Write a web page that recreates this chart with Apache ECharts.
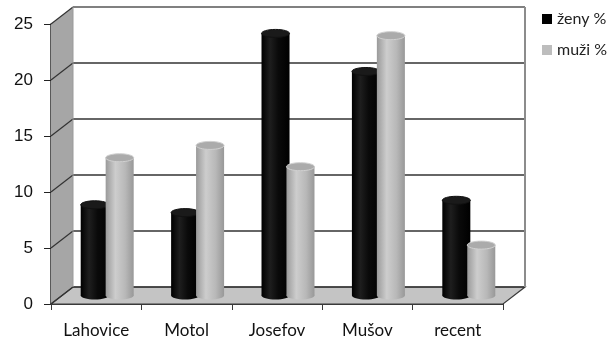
<!DOCTYPE html>
<html>
<head>
<meta charset="utf-8">
<script src="https://cdn.jsdelivr.net/npm/echarts@6/dist/echarts.min.js"></script>
<style>
  html, body { margin: 0; padding: 0; background: #fff; }
  #chart { width: 613px; height: 339px; }
</style>
</head>
<body>
<div id="chart"></div>
<script>
// Sites and the share (%) of women and men at each
const categories = ['Lahovice', 'Motol', 'Josefov', 'Mušov', 'recent'];
const zenyValues = [8.1, 7.4, 23.4, 20.0, 8.5];
const muziValues = [12.3, 13.4, 11.5, 23.2, 4.5];
const seriesNames = ['ženy %', 'muži %'];
const yTicks = [0, 5, 10, 15, 20, 25];

// Depth of the pseudo-3D box (pixels): back wall offset from the front plane
const DX = 22, DY = -17;

const chart = echarts.init(document.getElementById('chart'), null, { renderer: 'canvas' });

function wallsItem(params, api) {
  const cs = params.coordSys;
  const x0 = cs.x, x1 = cs.x + cs.width;
  const yB = api.coord([0, 0])[1];
  const yT = api.coord([0, yTicks[yTicks.length - 1]])[1];
  const children = [];
  // side wall
  children.push({ type: 'polygon', shape: { points: [[x0, yB], [x0, yT], [x0 + DX, yT + DY], [x0 + DX, yB + DY]] },
    style: { fill: '#a6a6a6', stroke: null } });
  // floor
  children.push({ type: 'polygon', shape: { points: [[x0, yB], [x1, yB], [x1 + DX, yB + DY], [x0 + DX, yB + DY]] },
    style: { fill: '#c4c4c4', stroke: '#3a3a3a', lineWidth: 1.2 } });
  // gridlines on the back wall and diagonals across the side wall
  yTicks.forEach(function (v) {
    const y = api.coord([0, v])[1];
    const top = v === yTicks[yTicks.length - 1];
    children.push({ type: 'line', shape: { x1: x0 + DX, y1: y + DY, x2: x1 + DX, y2: y + DY },
      style: { stroke: top ? '#808080' : '#333', lineWidth: top ? 2 : 1.5 } });
    children.push({ type: 'line', shape: { x1: x0, y1: y, x2: x0 + DX, y2: y + DY },
      style: { stroke: '#333', lineWidth: 1.2 } });
  });
  // right edge of the back wall
  children.push({ type: 'line', shape: { x1: x1 + DX, y1: yT + DY, x2: x1 + DX, y2: yB + DY },
    style: { stroke: '#8c8c8c', lineWidth: 2 } });
  // back edge of the side wall
  children.push({ type: 'line', shape: { x1: x0 + DX, y1: yT + DY, x2: x0 + DX, y2: yB + DY },
    style: { stroke: '#9a9a9a', lineWidth: 1 } });
  return { type: 'group', children: children };
}

function cylinderMaker(offsetFrac, palette) {
  return function (params, api) {
    const idx = api.value(0), val = api.value(1);
    const band = api.size([1, 0])[0];
    const bw = band * 0.31;
    const top = api.coord([idx, val]);
    const base = api.coord([idx, 0]);
    const cx = top[0] + band * offsetFrac + DX / 2;
    const yTop = top[1] + DY / 2;
    const yBase = base[1] + DY / 2;
    const rx = bw / 2, ry = 4;
    const grad = new echarts.graphic.LinearGradient(0, 0, 1, 0, palette.body);
    return {
      type: 'group',
      children: [
        { type: 'ellipse', shape: { cx: cx, cy: yBase, rx: rx, ry: ry }, style: { fill: grad } },
        { type: 'rect', shape: { x: cx - rx, y: yTop, width: bw, height: yBase - yTop }, style: { fill: grad } },
        { type: 'ellipse', shape: { cx: cx, cy: yTop, rx: rx, ry: ry },
          style: { fill: palette.cap, stroke: palette.capEdge, lineWidth: 1 } }
      ]
    };
  };
}

const blackPalette = {
  body: [
    { offset: 0, color: '#000' }, { offset: 0.3, color: '#1e1e1e' },
    { offset: 0.6, color: '#0a0a0a' }, { offset: 1, color: '#000' }
  ],
  cap: '#1a1a1a', capEdge: '#111'
};
const grayPalette = {
  body: [
    { offset: 0, color: '#9a9a9a' }, { offset: 0.35, color: '#cdcdcd' },
    { offset: 0.7, color: '#b8b8b8' }, { offset: 1, color: '#989898' }
  ],
  cap: '#ababab', capEdge: '#d0d0d0'
};

chart.setOption({
  animation: false,
  backgroundColor: '#fff',
  grid: { left: 51, right: 110, top: 24, bottom: 34, containLabel: false },
  legend: {
    data: seriesNames,
    orient: 'vertical',
    left: 542, top: 11, padding: 0,
    icon: 'rect', itemWidth: 10, itemHeight: 10, itemGap: 15,
    textStyle: { fontFamily: 'Lato', fontSize: 16, color: '#222' }
  },
  xAxis: {
    type: 'category',
    data: categories,
    axisLine: { show: true, lineStyle: { color: '#3a3a3a', width: 1.2 } },
    axisTick: { show: true, length: 6, lineStyle: { color: '#3a3a3a' } },
    axisLabel: { margin: 18, fontFamily: 'Lato', fontSize: 17, color: '#111' },
    splitLine: { show: false }
  },
  yAxis: {
    type: 'value',
    min: 0, max: 25, interval: 5,
    axisLine: { show: true, lineStyle: { color: '#222', width: 1.5 } },
    axisTick: { show: true, length: 7, lineStyle: { color: '#222' } },
    axisLabel: { margin: 18, fontFamily: 'Liberation Sans', fontSize: 17, color: '#111' },
    splitLine: { show: false }
  },
  series: [
    { type: 'custom', name: 'walls', z: 1, silent: true, renderItem: wallsItem, data: [[0, 0]] },
    { type: 'custom', name: seriesNames[0], z: 3, itemStyle: { color: '#000' },
      renderItem: cylinderMaker(-0.138, blackPalette),
      data: zenyValues.map(function (v, i) { return [i, v]; }) },
    { type: 'custom', name: seriesNames[1], z: 4, itemStyle: { color: '#bdbdbd' },
      renderItem: cylinderMaker(0.138, grayPalette),
      data: muziValues.map(function (v, i) { return [i, v]; }) }
  ]
});
</script>
</body>
</html>
